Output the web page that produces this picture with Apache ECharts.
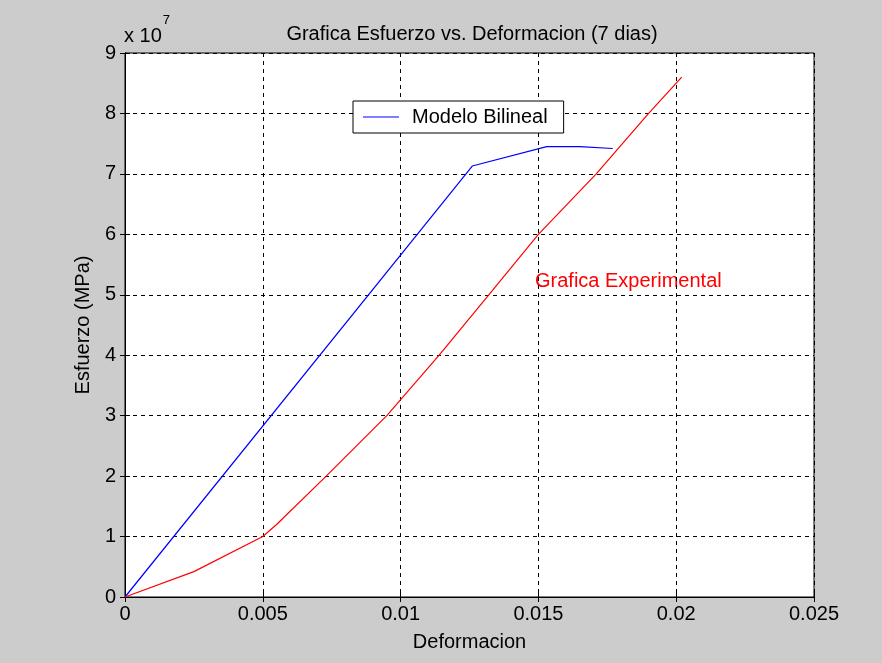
<!DOCTYPE html>
<html>
<head>
<meta charset="utf-8">
<script src="https://cdn.jsdelivr.net/npm/echarts@6/dist/echarts.min.js"></script>
<style>
html, body { margin: 0; padding: 0; background: #cccccc; }
#main { width: 882px; height: 663px; }
</style>
</head>
<body>
<div id="main"></div>
<script>
// datos (deformacion, esfuerzo en Pa)
var bilinealX = [0, 0.0126, 0.0153, 0.0165, 0.0177];
var bilinealY = [0, 7.13e7, 7.45e7, 7.45e7, 7.42e7];
var experX = [0, 0.0025, 0.005, 0.0055, 0.0073, 0.0095, 0.0114, 0.0132, 0.015, 0.0171, 0.019, 0.0202];
var experY = [0, 0.42e7, 1.0e7, 1.2e7, 2.0e7, 3.0e7, 4.0e7, 5.0e7, 6.0e7, 7.0e7, 8.0e7, 8.6e7];
var xTicks = [0, 0.005, 0.01, 0.015, 0.02, 0.025];

function pares(xs, ys) {
  return xs.map(function (x, i) { return [x, ys[i]]; });
}

var fuente = '"Liberation Sans", Arial, sans-serif';
var myChart = echarts.init(document.getElementById('main'));

var option = {
  backgroundColor: '#cccccc',
  animation: false,
  title: {
    text: 'Grafica Esfuerzo vs. Deformacion (7 dias)',
    left: 467, top: 19, textAlign: 'center',
    textStyle: { fontFamily: fuente, fontSize: 20, fontWeight: 'normal', color: '#000' }
  },
  legend: {
    data: [{ name: 'Modelo Bilineal', icon: 'rect' }],
    left: 353, top: 101,
    orient: 'vertical',
    padding: [6, 16, 6, 10],
    borderColor: '#000', borderWidth: 1, backgroundColor: '#fff',
    itemWidth: 36, itemHeight: 1,
    textStyle: { fontFamily: fuente, fontSize: 20, color: '#000', padding: [0, 0, 0, 8] }
  },
  grid: {
    left: 125, top: 53, right: 68, bottom: 66,
    show: true, backgroundColor: '#fff', borderColor: '#000', borderWidth: 1
  },
  graphic: [
    {
      type: 'text', left: 124, top: 14,
      style: {
        text: '{a|x 10}{b|7}',
        rich: {
          a: { fontFamily: fuente, fontSize: 20, fill: '#000', padding: [12, 1, 0, 0] },
          b: { fontFamily: fuente, fontSize: 13, fill: '#000', verticalAlign: 'top' }
        }
      }
    },
    {
      type: 'text', left: 535, top: 271,
      style: { text: 'Grafica Experimental', fontFamily: fuente, fontSize: 20, fill: '#ff0000' }
    }
  ],
  xAxis: [
    {
      type: 'value', min: 0, max: 0.025, interval: 0.005,
      name: 'Deformacion', nameLocation: 'middle', nameGap: 35,
      nameTextStyle: { fontFamily: fuente, fontSize: 20, color: '#000' },
      axisLine: { lineStyle: { color: '#000' } },
      axisTick: { inside: true, length: 5, lineStyle: { color: '#000' } },
      axisLabel: {
        fontFamily: fuente, fontSize: 20, color: '#000', margin: 7,
        formatter: function (v) {
          var i = xTicks.findIndex(function (t) { return Math.abs(t - v) < 1e-9; });
          return i >= 0 ? String(xTicks[i]) : '';
        }
      },
      splitLine: { show: true, lineStyle: { color: '#000', type: [4, 4], width: 1 } }
    },
    {
      type: 'value', position: 'top', min: 0, max: 0.025, interval: 0.005,
      axisLine: { lineStyle: { color: '#000' } },
      axisTick: { inside: true, length: 5, lineStyle: { color: '#000' } },
      axisLabel: { show: false }, splitLine: { show: false }
    }
  ],
  yAxis: [
    {
      type: 'value', min: 0, max: 9e7, interval: 1e7,
      name: 'Esfuerzo (MPa)', nameLocation: 'middle', nameGap: 31,
      nameTextStyle: { fontFamily: fuente, fontSize: 20, color: '#000' },
      axisLine: { lineStyle: { color: '#000' } },
      axisTick: { inside: true, length: 5, lineStyle: { color: '#000' } },
      axisLabel: {
        fontFamily: fuente, fontSize: 20, color: '#000', margin: 9,
        formatter: function (v) { return String(Math.round(v / 1e7)); }
      },
      splitLine: { show: true, lineStyle: { color: '#000', type: [4, 4], width: 1 } }
    },
    {
      type: 'value', position: 'right', min: 0, max: 9e7, interval: 1e7,
      axisLine: { show: true, lineStyle: { color: '#000' } },
      axisTick: { show: true, inside: true, length: 5, lineStyle: { color: '#000' } },
      axisLabel: { show: false }, splitLine: { show: false }
    }
  ],
  series: [
    {
      name: 'Modelo Bilineal', type: 'line', symbol: 'none',
      data: pares(bilinealX, bilinealY),
      lineStyle: { color: '#0000ff', width: 1.2 }, itemStyle: { color: '#0000ff' }
    },
    {
      name: 'Grafica Experimental', type: 'line', symbol: 'none',
      data: pares(experX, experY),
      lineStyle: { color: '#ff0000', width: 1.2 }, itemStyle: { color: '#ff0000' }
    }
  ]
};

myChart.setOption(option);
</script>
</body>
</html>
